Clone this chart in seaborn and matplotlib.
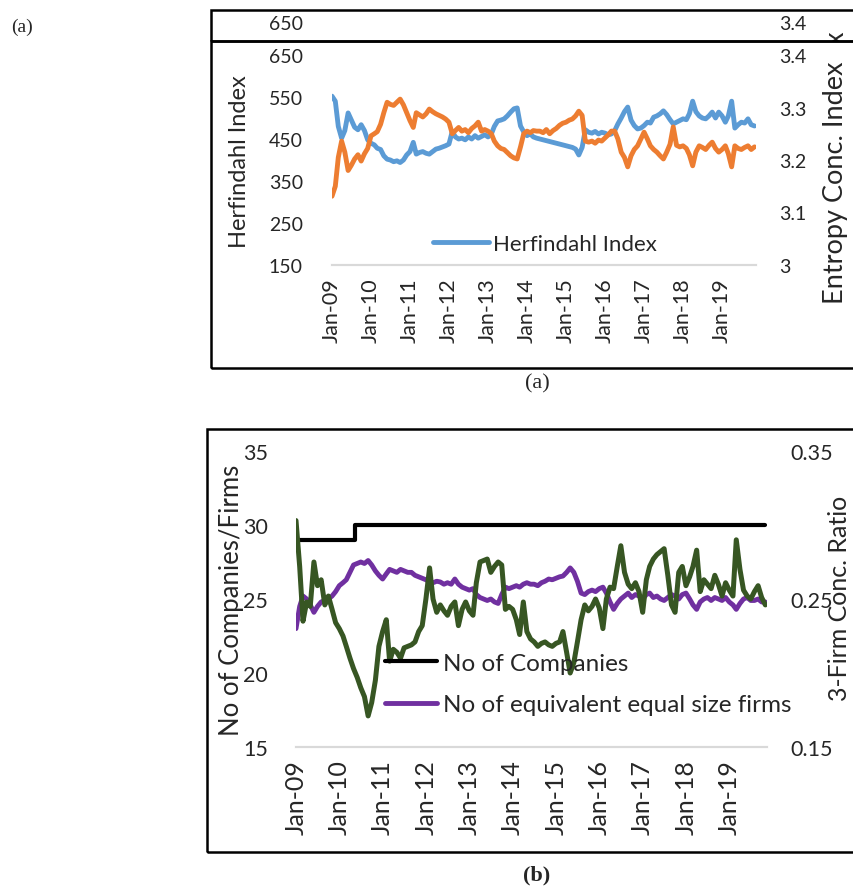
import pandas as pd
import seaborn as sns
import matplotlib.pyplot as plt
from matplotlib.patches import Rectangle
from matplotlib.lines import Line2D

# monthly readings, Jan 2009 - Nov 2019
months = pd.date_range("2009-01-01", "2019-11-01", freq="MS")

herfindahl = [
    552, 540, 480, 452, 470, 512, 495, 478, 472, 484, 470, 448,
    440, 436, 428, 425, 410, 402, 400, 396, 398, 394, 400, 412,
    420, 442, 414, 418, 420, 416, 414, 420, 426, 428, 431, 434,
    438, 468, 455, 450, 452, 448, 455, 450, 458, 452, 456, 460,
    455, 462, 480, 493, 495, 498, 505, 514, 522, 524, 481, 467,
    458, 462, 455, 452, 450, 448, 446, 444, 442, 440, 438, 436,
    434, 432, 430, 426, 412, 430, 472, 466, 464, 468, 462, 466,
    464, 460, 462, 470, 486, 500, 515, 526, 495, 482, 474, 476,
    482, 490, 488, 502, 505, 510, 517, 508, 496, 486, 490, 494,
    498, 496, 510, 540, 515, 505, 500, 498, 505, 514, 500, 514,
    505, 490, 505, 540, 476, 484, 490, 488, 498, 484, 481,
]

entropy = [
    3.131, 3.150, 3.205, 3.236, 3.215, 3.180, 3.190, 3.202, 3.210, 3.198, 3.212, 3.222,
    3.246, 3.250, 3.254, 3.268, 3.290, 3.310, 3.306, 3.304, 3.310, 3.316, 3.305, 3.290,
    3.275, 3.262, 3.290, 3.286, 3.282, 3.288, 3.297, 3.292, 3.288, 3.285, 3.282, 3.278,
    3.272, 3.250, 3.256, 3.262, 3.255, 3.258, 3.252, 3.260, 3.265, 3.272, 3.255, 3.258,
    3.255, 3.250, 3.236, 3.227, 3.222, 3.220, 3.214, 3.208, 3.204, 3.202, 3.225, 3.250,
    3.255, 3.252, 3.256, 3.255, 3.255, 3.252, 3.258, 3.250, 3.256, 3.260, 3.266, 3.270,
    3.272, 3.276, 3.278, 3.284, 3.293, 3.285, 3.236, 3.234, 3.236, 3.232, 3.238, 3.236,
    3.242, 3.248, 3.255, 3.255, 3.240, 3.215, 3.205, 3.187, 3.208, 3.220, 3.227, 3.240,
    3.253, 3.240, 3.227, 3.220, 3.215, 3.208, 3.202, 3.215, 3.230, 3.263, 3.228, 3.225,
    3.227, 3.222, 3.210, 3.189, 3.215, 3.227, 3.224, 3.220, 3.228, 3.234, 3.222, 3.215,
    3.220, 3.227, 3.212, 3.187, 3.227, 3.222, 3.220, 3.224, 3.227, 3.220, 3.225,
]

equiv_firms = [
    23.0, 24.5, 25.2, 25.0, 24.6, 24.1, 24.5, 24.8, 24.9, 25.0, 25.2, 25.5,
    25.9, 26.1, 26.3, 26.8, 27.3, 27.4, 27.5, 27.4, 27.6, 27.3, 26.9, 26.6,
    26.35, 26.7, 27.0, 26.9, 26.8, 27.0, 26.9, 26.8, 26.8, 26.6, 26.5, 26.4,
    26.3, 26.15, 26.1, 26.2, 26.15, 26.0, 26.1, 26.0, 26.35, 26.0, 25.8, 25.7,
    25.6, 25.7, 25.3, 25.1, 25.0, 24.9, 25.0, 24.8, 24.7, 25.3, 25.8, 25.7,
    25.8, 25.9, 25.8, 26.0, 26.1, 26.0, 26.0, 25.9, 26.1, 26.2, 26.35, 26.3,
    26.4, 26.5, 26.55, 26.8, 27.1, 26.8, 26.2, 25.4, 25.3, 25.5, 25.6, 25.5,
    25.7, 25.8, 25.4, 24.8, 24.3, 24.7, 25.0, 25.2, 25.4, 25.1, 25.3, 25.2,
    25.0, 25.3, 25.4, 25.1, 25.2, 25.0, 24.9, 25.1, 25.3, 25.2, 25.0, 25.3,
    25.4, 25.0, 24.6, 24.3, 24.8, 25.0, 25.1, 24.9, 25.1, 25.0, 24.9, 25.1,
    24.8, 24.6, 24.3, 24.7, 25.0, 25.1, 24.9, 24.9, 25.0, 24.8, 24.8,
]

three_firm = [
    0.303, 0.272, 0.235, 0.248, 0.245, 0.275, 0.259, 0.263, 0.246, 0.252, 0.243, 0.234,
    0.230, 0.225, 0.218, 0.210, 0.203, 0.197, 0.190, 0.184, 0.171, 0.180, 0.195, 0.218,
    0.228, 0.236, 0.208, 0.216, 0.214, 0.210, 0.217, 0.218, 0.219, 0.221, 0.228, 0.232,
    0.250, 0.271, 0.250, 0.241, 0.246, 0.242, 0.239, 0.245, 0.248, 0.232, 0.243, 0.248,
    0.242, 0.239, 0.261, 0.275, 0.276, 0.277, 0.268, 0.272, 0.275, 0.273, 0.243, 0.245,
    0.243, 0.236, 0.226, 0.248, 0.228, 0.223, 0.221, 0.218, 0.220, 0.221, 0.219, 0.218,
    0.220, 0.221, 0.228, 0.214, 0.200, 0.207, 0.221, 0.236, 0.246, 0.242, 0.245, 0.250,
    0.244, 0.230, 0.250, 0.258, 0.257, 0.272, 0.286, 0.268, 0.260, 0.257, 0.261, 0.255,
    0.241, 0.263, 0.272, 0.277, 0.280, 0.282, 0.284, 0.266, 0.246, 0.241, 0.268, 0.272,
    0.259, 0.265, 0.272, 0.283, 0.255, 0.263, 0.260, 0.257, 0.266, 0.260, 0.252, 0.261,
    0.256, 0.252, 0.290, 0.270, 0.256, 0.252, 0.250, 0.255, 0.259, 0.251, 0.246,
]

company_dates = pd.to_datetime(["2009-01-01", "2010-05-15", "2010-05-15", "2019-11-01"])
companies = [29, 29, 30, 30]

year_ticks = pd.to_datetime(["2009-01-01", "2010-01-01", "2011-01-01", "2012-01-01",
                             "2013-01-01", "2014-01-01", "2015-01-01", "2016-01-01",
                             "2017-01-01", "2018-01-01", "2019-01-01"])
year_labels = ["Jan-09", "Jan-10", "Jan-11", "Jan-12", "Jan-13", "Jan-14",
               "Jan-15", "Jan-16", "Jan-17", "Jan-18", "Jan-19"]

BLUE, ORANGE, PURPLE, GREEN = "#5B9BD5", "#ED7D31", "#7030A0", "#375623"
AXIS_GREY = "#D9D9D9"

sns.set_style("white")
plt.rcParams["font.family"] = ["Lato", "DejaVu Sans"]

W, H = 854, 887
fig = plt.figure(figsize=(W / 100, H / 100), dpi=100)


def fx(px):
    return px / W


def fy(py):
    return 1 - py / H


x_start, x_end = pd.Timestamp("2009-01-01"), pd.Timestamp("2019-11-15")


def style_axes(ax, axr, ytick_size, xtick_size, lpad, rpad):
    for a in (ax, axr):
        for side in ("top", "left", "right"):
            a.spines[side].set_visible(False)
        a.spines["bottom"].set_color(AXIS_GREY)
        a.spines["bottom"].set_linewidth(1.5)
    ax.set_xlim(x_start, x_end)
    ax.set_xticks(year_ticks)
    ax.set_xticklabels(year_labels)
    ax.tick_params(axis="x", direction="out", length=6, width=1.2, color=AXIS_GREY,
                   labelsize=xtick_size, labelrotation=90, pad=3)
    ax.tick_params(axis="y", length=0, labelsize=ytick_size, pad=lpad)
    axr.tick_params(axis="y", length=0, labelsize=ytick_size, pad=rpad)
    ax.set_xlabel("")
    ax.set_ylabel("")
    axr.set_ylabel("")


# ---------------- panel (a)
ax1 = fig.add_axes([fx(332), fy(266), fx(756) - fx(332), fy(56) - fy(266)])
ax1r = ax1.twinx()
sns.lineplot(x=months, y=herfindahl, ax=ax1, color=BLUE, linewidth=3.5)
sns.lineplot(x=months, y=entropy, ax=ax1r, color=ORANGE, linewidth=3.5)
ax1.set_ylim(150, 650)
ax1.set_yticks([150, 250, 350, 450, 550, 650])
ax1r.set_ylim(3.0, 3.4)
ax1r.set_yticks([3.0, 3.1, 3.2, 3.3, 3.4])
ax1r.set_yticklabels(["3", "3.1", "3.2", "3.3", "3.4"])
style_axes(ax1, ax1r, 14, 15.5, 21, 16.5)

fig.legend(handles=[Line2D([], [], color=BLUE, lw=3.5)], labels=["Herfindahl Index"],
           loc="center left", bbox_to_anchor=(fx(433), fy(245)), frameon=False,
           fontsize=16, handlelength=2.5, handletextpad=0.2, borderpad=0, borderaxespad=0)

fig.text(fx(240), fy(162), "Herfindahl Index", rotation=90, ha="center", va="center", fontsize=17)
fig.text(fx(836), fy(183), "Entropy Conc. Index", rotation=90, ha="center", va="center", fontsize=19.5)

# duplicated strip above panel (a): only the tops of the labels show
strip = fig.add_axes([fx(211), fy(42), 1 - fx(211), fy(11) - fy(42)])
strip.axis("off")
strip.text(fx(303), fy(24), "650", transform=fig.transFigure, ha="right", va="center", fontsize=14)
strip.text(fx(779), fy(24), "3.4", transform=fig.transFigure, ha="left", va="center", fontsize=14)
ghost = strip.text(fx(836), fy(38), "x", transform=fig.transFigure,
                   rotation=90, ha="center", va="center", fontsize=19.5)
ghost.set_clip_on(True)
ghost.set_clip_box(strip.bbox)

fig.add_artist(Rectangle((fx(211), fy(369)), 1, fy(42) - fy(369), transform=fig.transFigure,
                         fill=False, ec="black", lw=1.8))
fig.add_artist(Rectangle((fx(211), fy(42)), 1, fy(11) - fy(42), transform=fig.transFigure,
                         fill=False, ec="black", lw=1.8))

fig.text(fx(537), fy(384), "(a)", family="Liberation Serif", ha="center", va="center", fontsize=16)
fig.text(fx(22), fy(27), "(a)", family="Liberation Serif", ha="center", va="center", fontsize=14)

# ---------------- panel (b)
ax2 = fig.add_axes([fx(296), fy(748), fx(767) - fx(296), fy(452) - fy(748)])
ax2r = ax2.twinx()
sns.lineplot(x=company_dates, y=companies, ax=ax2, color="black", linewidth=3,
             estimator=None, sort=False)
sns.lineplot(x=months, y=equiv_firms, ax=ax2, color=PURPLE, linewidth=3.5)
sns.lineplot(x=months, y=three_firm, ax=ax2r, color=GREEN, linewidth=3.6)
ax2.set_ylim(15, 35)
ax2.set_yticks([15, 20, 25, 30, 35])
ax2r.set_ylim(0.15, 0.35)
ax2r.set_yticks([0.15, 0.25, 0.35])
ax2r.set_yticklabels(["0.15", "0.25", "0.35"])
style_axes(ax2, ax2r, 15.5, 18, 20, 16.5)

fig.legend(handles=[Line2D([], [], color="black", lw=3), Line2D([], [], color=PURPLE, lw=3.5)],
           labels=["No of Companies", "No of equivalent equal size firms"],
           loc="center left", bbox_to_anchor=(fx(385), fy(685)), frameon=False,
           fontsize=17.5, handlelength=2.15, handletextpad=0.25, labelspacing=0.85,
           borderpad=0, borderaxespad=0)

fig.text(fx(232), fy(600), "No of Companies/Firms", rotation=90, ha="center", va="center", fontsize=18.5)
fig.text(fx(840), fy(598), "3-Firm Conc. Ratio", rotation=90, ha="center", va="center", fontsize=18)

fig.add_artist(Rectangle((fx(207), fy(853)), 1, fy(430) - fy(853), transform=fig.transFigure,
                         fill=False, ec="black", lw=1.8))

fig.text(fx(537), fy(875), "(b)", family="Liberation Serif", fontweight="bold",
         ha="center", va="center", fontsize=16)

fig.savefig("out.png", dpi=100)
